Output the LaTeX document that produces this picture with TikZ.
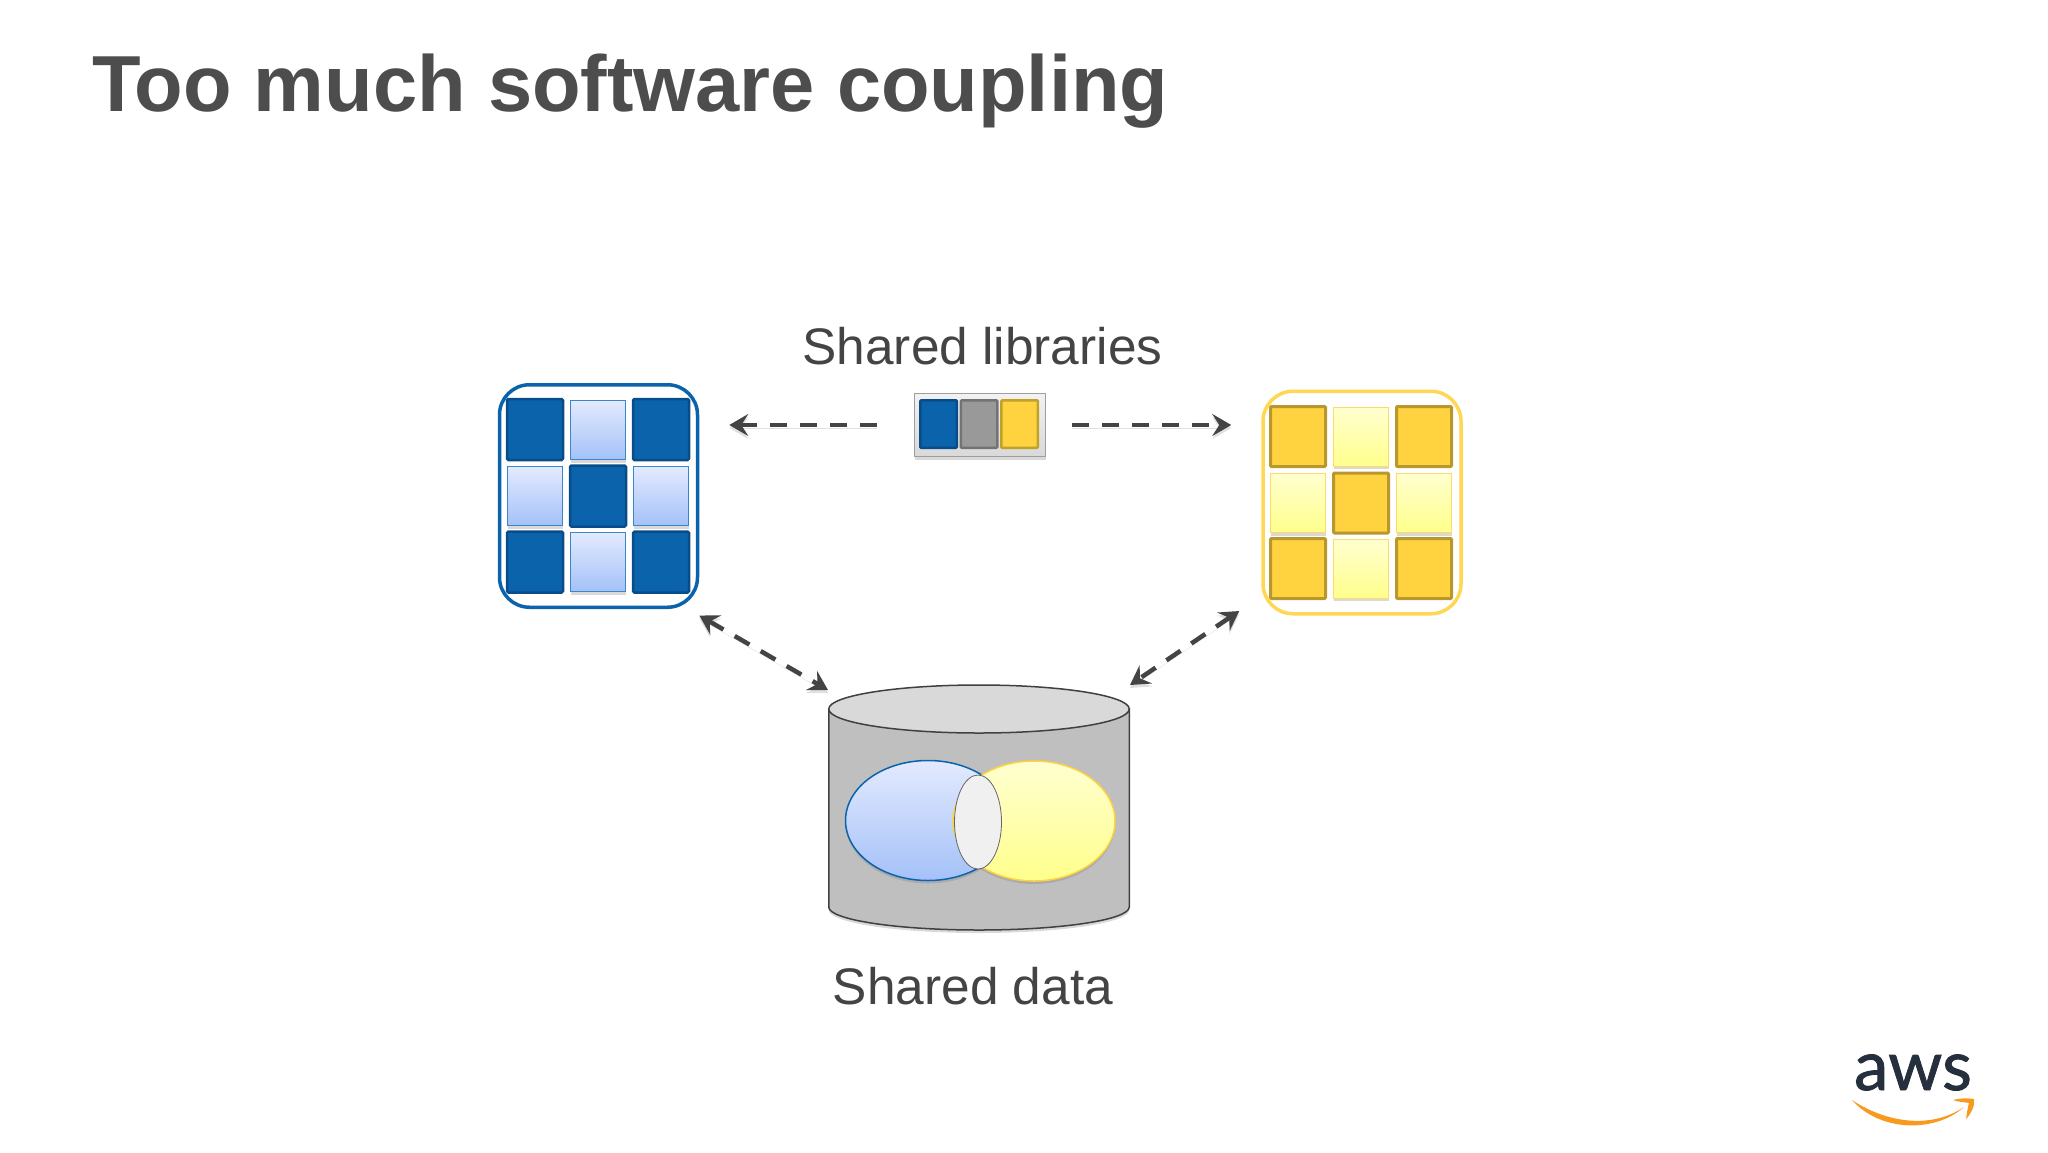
\documentclass[tikz,border=0pt]{standalone}
\usepackage{fontspec}
\setmainfont{Liberation Sans}
\newfontfamily\logofont[FakeBold=1.2]{Lato}
\usetikzlibrary{arrows.meta,shapes.geometric,shadows}

\definecolor{awsblue}{HTML}{0B63AC}
\definecolor{awsblueedge}{HTML}{084C8A}
\definecolor{paleblue}{HTML}{E3EAFE}
\definecolor{midblue}{HTML}{A4C1F8}
\definecolor{lightblueedge}{HTML}{3A86C8}
\definecolor{awsyellow}{HTML}{FFD23F}
\definecolor{awsyellowedge}{HTML}{B8982C}
\definecolor{paleyellow}{HTML}{FFFFD0}
\definecolor{midyellow}{HTML}{FFFF8C}
\definecolor{labelgray}{HTML}{444444}
\definecolor{logoink}{HTML}{252F3E}
\definecolor{logoorange}{HTML}{F79A1E}

\tikzset{
  softshadow/.style={drop shadow={opacity=.3,shadow xshift=0pt,shadow yshift=-3pt}},
  darkblue/.style={rectangle,inner sep=0pt,minimum width=56pt,minimum height=61pt,rounded corners=1.5pt,
    fill=awsblue,draw=awsblueedge,line width=2.5pt},
  lightblue/.style={rectangle,inner sep=0pt,minimum width=55pt,minimum height=59pt,softshadow,
    top color=paleblue,bottom color=midblue,draw=lightblueedge,line width=1pt},
  darkyellow/.style={rectangle,inner sep=0pt,minimum width=55pt,minimum height=60pt,rounded corners=1pt,
    fill=awsyellow,draw=awsyellowedge,line width=3pt},
  lightyellow/.style={rectangle,inner sep=0pt,minimum width=55pt,minimum height=59pt,softshadow,
    top color=paleyellow,bottom color=midyellow,draw=awsyellow!80!white,line width=1pt},
  libcell/.style={rectangle,inner sep=0pt,minimum width=36.5pt,minimum height=47.5pt,rounded corners=1pt,line width=2.5pt},
  appframe/.style={rectangle,inner sep=0pt,minimum width=198pt,minimum height=222.5pt,rounded corners=30pt,line width=3.5pt},
  sharedlink/.style={draw=labelgray,line width=4.5pt,dash pattern=on 17pt off 13pt,
    preaction={draw=black!12,transform canvas={yshift=-3pt}}},
  slabel/.style={anchor=base,text=labelgray,font=\fontsize{51.4}{60}\selectfont}
}

\begin{document}
\begin{tikzpicture}[x=1pt,y=-1pt,>={Stealth[length=19pt,width=22pt,inset=7pt]}]
      \useasboundingbox (0,0) rectangle (2048,1152);

      \node[anchor=base west,text=labelgray!95!white,font=\fontsize{79.5}{90}\selectfont\bfseries] (title) at (88.5,111) {Too much software coupling};
      \node[slabel] (libtext) at (982.5,364) {Shared libraries};
      \node[slabel] (datatext) at (973,1004) {Shared data};

      % the two services
      \node[appframe,draw=awsblue] (blueapp) at (598.5,496) {};
      \node[appframe,draw=awsyellow!90!white] (yellowapp) at (1362,502.5) {};

      \begin{scope}[every node/.style={darkblue}]
        \node (b11) at (535,429.5) {};
        \node (b13) at (661,429.5) {};
        \node (b22) at (598,496) {};
        \node (b31) at (535,562) {};
        \node (b33) at (661,562) {};
      \end{scope}

      \begin{scope}[every node/.style={lightblue}]
        \node (b12) at (598,430) {};
        \node (b21) at (535,496) {};
        \node (b23) at (661,496) {};
        \node (b32) at (598,562) {};
      \end{scope}

      \begin{scope}[every node/.style={darkyellow}]
        \node (y11) at (1298,436.5) {};
        \node (y13) at (1424,436.5) {};
        \node (y22) at (1361,503) {};
        \node (y31) at (1298,568.5) {};
        \node (y33) at (1424,568.5) {};
      \end{scope}

      \begin{scope}[every node/.style={lightyellow}]
        \node (y12) at (1361,436.5) {};
        \node (y21) at (1298,503) {};
        \node (y23) at (1424,503) {};
        \node (y32) at (1361,568.5) {};
      \end{scope}

      % shared library box
      \node[rectangle,inner sep=0pt,minimum width=131pt,minimum height=63pt,softshadow,
        top color=black!5,bottom color=black!15,draw=black!38,line width=1.5pt] (libs) at (980,425) {};
      \node[libcell,fill=awsblue,draw=awsblueedge] (libblue) at (938.5,424) {};
      \node[libcell,fill=black!40,draw=black!55] (libgray) at (979,424) {};
      \node[libcell,fill=awsyellow,draw=awsyellowedge!90!yellow] (libyellow) at (1019.5,424) {};

      % shared data store
      \draw[fill=black!25,draw=black!75,line width=1.5pt,softshadow] (828.75,709) -- (828.75,907)
        arc[start angle=180,end angle=360,x radius=150.25pt,y radius=23pt] -- (1129.25,709) -- cycle;
      \node[ellipse,inner sep=0pt,minimum width=300.5pt,minimum height=48pt,
        fill=black!15,draw=black!75,line width=1.5pt] (store) at (979,709) {};
      \node[ellipse,inner sep=0pt,minimum width=165pt,minimum height=120pt,softshadow,
        top color=paleblue,bottom color=midblue,draw=awsblue,line width=1.5pt] (bluedata) at (928,820.5) {};
      \node[ellipse,inner sep=0pt,minimum width=162pt,minimum height=120pt,softshadow,
        top color=paleyellow,bottom color=midyellow,draw=awsyellow,line width=1.5pt] (yellowdata) at (1034,821) {};
      \node[ellipse,inner sep=0pt,minimum width=47pt,minimum height=94pt,
        fill=black!6,draw=black!60,line width=.8pt] (overlap) at (978,822) {};

      % connectors
      \path (libs.west) edge[sharedlink,->,shorten <=37pt,shorten >=30pt] (libs.west -| blueapp.east);
      \path (libs.east) edge[sharedlink,->,shorten <=26pt,shorten >=30pt] (libs.east -| yellowapp.west);
      \path ([yshift=-6.5pt]blueapp.south east) edge[sharedlink,<->] ([yshift=19pt]store.west);
      \path ([xshift=-22pt,yshift=4.5pt]yellowapp.south west) edge[sharedlink,<->] ([yshift=24pt]store.east);

      % logo
      \node[anchor=base,text=logoink,font=\fontsize{69}{72}\logofont] (awsword) at (1913,1090) {aws};
      \fill[logoorange] (1852,1100) .. controls (1885,1122) and (1930,1130) .. (1964,1107)
        .. controls (1935,1133) and (1880,1132) .. cycle;
      \fill[logoorange] (1953,1100) .. controls (1960,1098) and (1968,1098) .. (1974,1099)
        .. controls (1975,1106) and (1971,1114) .. (1966,1119) .. controls (1967,1112) and (1968,1106) .. (1969,1103)
        .. controls (1964,1102) and (1958,1102) .. cycle;

    \end{tikzpicture}
\end{document}
